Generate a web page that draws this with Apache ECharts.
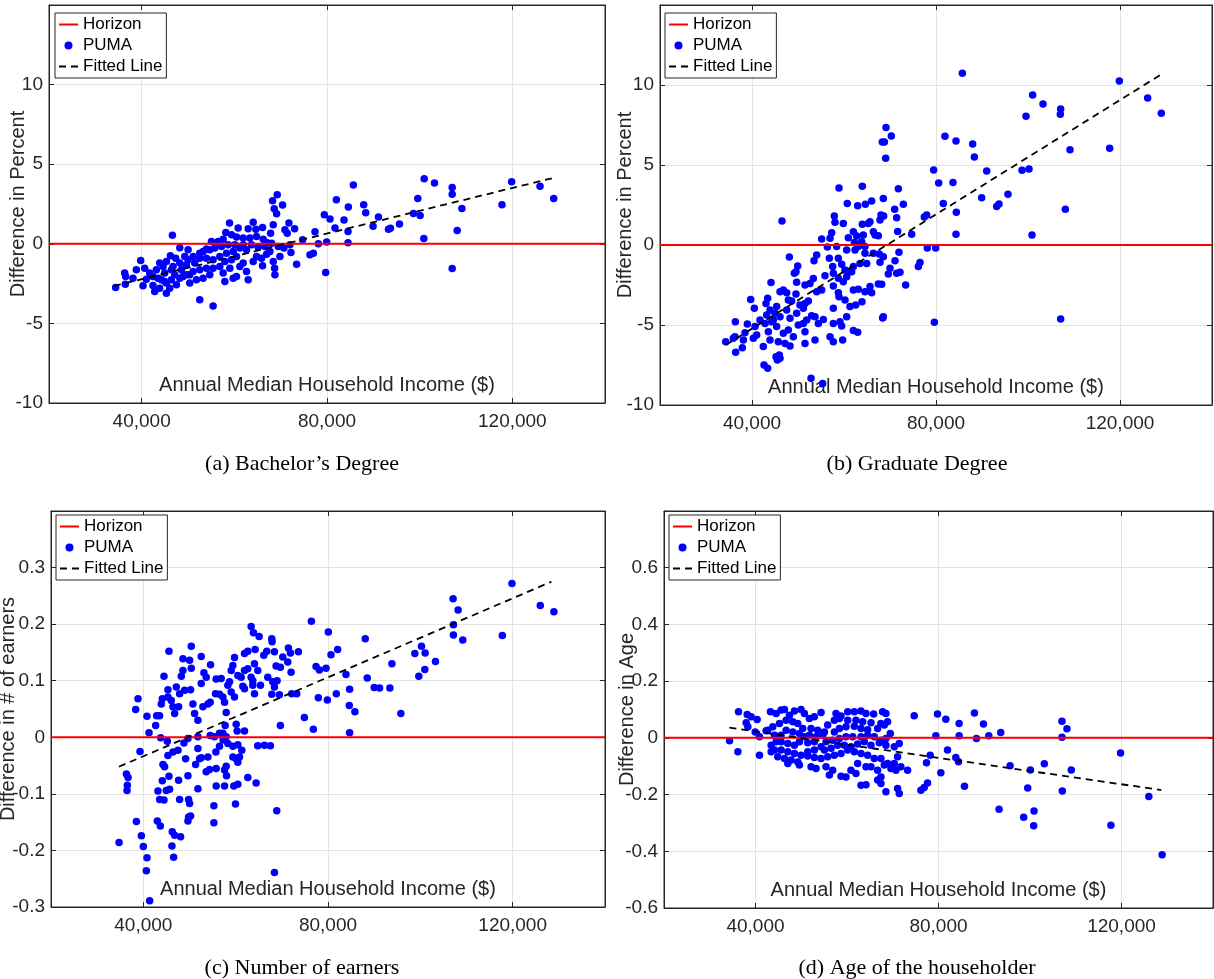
<!DOCTYPE html>
<html>
<head>
<meta charset="utf-8">
<title>PUMA differences vs income</title>
<script src="https://cdn.jsdelivr.net/npm/echarts@6/dist/echarts.min.js"></script>
<style>
  html, body { margin: 0; padding: 0; background: #fff; }
  #myChart { width: 1214px; height: 979px; }
</style>
</head>
<body>
<div id="myChart"></div>
<script>
// shared axis info
const incomeTicks = [40000, 80000, 120000]
const incomeRange = [20000, 140000]
const horizonLevel = 0
const captions = ['(a) Bachelor’s Degree', '(b) Graduate Degree', '(c) Number of earners', '(d) Age of the householder']
const yNames = ['Difference in Percent', 'Difference in Percent', 'Difference in # of earners', 'Difference in Age']
const yMins = [-10, -10, -0.3, -0.6]
const yMaxs = [15, 15, 0.4, 0.8]
const yIntervals = [5, 5, 0.1, 0.2]
const xName = 'Annual Median Household Income ($)'

// (a) bachelor's degree: [income, difference %]
const pumaA = [[69260,3.08],[68250,2.70],[70410,2.43],[68610,2.20],[69120,1.89],[82020,2.77],[79420,1.83],[80650,1.55],[81730,0.99],[77410,0.76],[71780,1.30],[73010,0.94],[70920,0.88],[71420,0.67],[64070,1.36],[58960,1.30],[60830,0.99],[62990,0.94],[64650,0.92],[66090,1.03],[68400,1.20],[67820,0.67],[46630,0.53],[48220,-0.25],[50020,-0.38],[49300,-0.80],[46200,-0.75],[47350,-0.90],[39790,-1.05],[36330,-1.84],[36540,-2.05],[34380,-2.74],[36470,-2.54],[38130,-2.16],[38850,-1.63],[40650,-1.53],[41010,-2.22],[40290,-2.64],[42450,-2.62],[42810,-3.00],[44250,-2.26],[44970,-1.84],[43890,-1.21],[45330,-1.11],[46780,-1.42],[48580,-1.63],[49660,-1.32],[51460,-1.21],[52540,-0.90],[53260,-0.48],[53980,-0.33],[55060,0.15],[56500,0.15],[57590,0.29],[58160,0.71],[59390,0.57],[60470,0.42],[61910,0.36],[63350,0.36],[64790,0.46],[66230,0.29],[66960,0.08],[68040,0.04],[69480,-0.17],[70700,-0.27],[72000,-0.06],[72220,-0.54],[69840,-0.80],[68400,-1.11],[68690,-1.53],[68760,-1.95],[73440,-1.28],[76320,-0.69],[77050,-0.59],[78130,0.00],[79930,0.11],[79710,-1.80],[74740,0.25],[52540,-3.52],[55420,-3.90],[45330,-3.10],[46050,-2.79],[47500,-2.58],[48940,-2.05],[50380,-1.95],[51820,-2.26],[53260,-2.16],[54700,-1.95],[55420,-1.53],[56870,-1.42],[57590,-1.84],[57950,-2.37],[59030,-1.53],[59750,-2.16],[60470,-2.05],[61190,-1.42],[61910,-1.21],[62630,-1.74],[62990,-2.26],[64070,-1.11],[64790,-0.80],[65870,-0.90],[66090,-1.38],[66960,-0.65],[67680,-0.48],[62630,-0.38],[61190,-0.27],[59750,-0.48],[58310,-0.59],[56870,-0.80],[55420,-1.00],[53980,-0.90],[59390,-1.00],[57950,-1.11],[60470,-0.80],[63710,-0.06],[65150,-0.21],[66600,-0.17],[61910,-0.06],[60110,-0.06],[58670,-0.06],[57230,-0.17],[55780,-0.27],[54700,-0.38],[52540,-0.59],[51100,-0.80],[50020,-1.00],[48220,-1.21],[46410,-1.63],[44610,-1.42],[43170,-1.63],[41730,-1.84],[42450,-2.05],[43530,-2.16],[44970,-2.37],[46410,-2.26],[48220,-2.16],[49660,-1.95],[51100,-1.74],[52540,-1.63],[53980,-1.53],[50380,-2.47],[47140,-1.95],[43890,-2.79],[45330,-2.47],
  [85690,3.69],[84610,2.31],[83670,1.49],[84540,0.78],[84540,0.06],[87920,2.45],[88360,1.95],[91100,1.68],[89940,1.11],[93260,0.92],[93690,0.97],[95640,1.24],[98660,1.91],[99600,2.85],[100100,1.78],[100970,4.09],[103200,3.82],[100900,0.34],[107020,3.54],[107020,3.12],[109110,2.22],[108100,0.84],[107020,-1.55],[117760,2.45],[119850,3.90],[125980,3.61],[128930,2.85]]
const fitA = [[34000,-2.65],[129000,4.15]]

// (b) graduate degree: [income, difference %]
const pumaB = [[69130,7.35],[68330,6.44],[68770,6.44],[70290,6.81],[69060,5.42],[81950,6.79],[84350,6.50],[79490,4.69],[80580,3.88],[83690,3.90],[81590,2.60],[84420,2.04],[84350,0.67],[58910,3.56],[63980,3.67],[71810,3.52],[68550,2.90],[66010,2.75],[64640,2.54],[62970,2.46],[60720,2.60],[72900,2.54],[71010,2.23],[71450,1.71],[68040,1.87],[68620,1.81],[67820,1.56],[57900,1.81],[58040,1.42],[59850,1.35],[65650,1.46],[65290,1.35],[63980,1.29],[46520,1.50],[71670,0.85],[74710,0.67],[66740,0.62],[67460,0.58],[66380,0.83],[62030,0.83],[62750,0.56],[64200,0.62],[63840,0.21],[55140,0.38],[56960,0.42],[57320,0.77],[60940,0.46],[62250,0.15],[63110,-0.10],[64560,-0.10],[56380,-0.12],[58400,-0.10],[60580,-0.31],[62390,-0.31],[64560,-0.52],[66380,-0.52],[67680,-0.56],[68550,-0.73],[71950,-0.46],[77970,1.87],[77460,1.75],[78110,-0.19],[79930,-0.19],[48120,-0.75],[54060,-0.62],[53480,-0.98],[56810,-0.83],[57540,-1.35],[58770,-0.83],[59490,-1.21],[60220,-1.56],[61300,-1.67],[62030,-1.35],[63480,-1.15],[64930,-1.15],[67820,-1.08],[70000,-1.46],[69640,-1.81],[71090,-0.98],[71450,-1.77],[72170,-1.71],[73400,-2.50],[76520,-1.10],[76160,-1.35],[49930,-1.31],[49560,-1.67],[49200,-1.77],[55870,-1.92],[57680,-1.77],[58770,-2.08],[59850,-2.29],[60580,-1.98],[61670,-1.67],[62030,-2.81],[63110,-2.77],[64560,-2.92],[66010,-2.98],[65650,-2.60],[67460,-2.44],[68190,-2.46],[44130,-2.35],[49710,-2.33],[51520,-2.50],[52610,-2.40],[53330,-2.10],[54060,-2.92],[55140,-2.81],[57680,-2.56],[58770,-2.98],[58910,-3.23],[60220,-3.44],[61300,-3.85],[62540,-3.75],[63910,-3.54],[39710,-3.40],[40510,-3.96],[43410,-3.33],[46090,-2.92],[46810,-2.81],[47540,-2.98],[47900,-3.44],[48620,-3.50],[49560,-3.06],[50430,-3.75],[51520,-3.65],[52250,-3.50],[52970,-4.42],[53700,-4.48],[54420,-4.90],[55510,-4.65],[57680,-3.96],[57680,-4.90],[59130,-4.79],[59490,-5.06],[60580,-4.48],[43040,-3.65],[43910,-4.06],[45360,-3.85],[45000,-4.27],[43190,-4.37],[44640,-4.69],[46090,-4.48],[47540,-4.06],[48260,-4.58],[49710,-4.27],[51160,-3.96],[51160,-4.90],[51880,-4.69],[36380,-4.79],[38990,-4.94],[40650,-5.10],[38480,-5.48],[36300,-5.73],[38120,-5.94],[40290,-5.83],[41010,-5.63],[41740,-4.69],[42830,-4.90],[44280,-4.79],[45360,-5.10],[46810,-5.52],[47900,-5.31],[48990,-5.73],[50070,-5.00],[51520,-5.42],[43550,-5.42],[43910,-5.94],[45720,-6.04],[47170,-6.15],[48260,-6.31],[42460,-6.35],[51520,-6.15],[53700,-5.94],[56960,-5.73],[57680,-6.04],[59710,-5.94],[62030,-5.35],[62970,-5.46],[68550,-4.48],[68400,-4.56],[79640,-4.83],[34280,-6.04],[35940,-5.83],[37900,-6.42],[36450,-6.71],[42610,-7.50],[43410,-7.71],[45220,-6.98],[45940,-6.88],[45510,-7.19],[46090,-7.08],[52830,-8.33],[55360,-8.65],
  [85730,10.73],[87970,6.31],[88340,5.50],[91020,4.63],[89930,2.96],[93190,2.40],[93700,2.56],[95650,3.17],[98700,4.67],[100220,4.75],[99570,8.04],[101010,9.37],[103260,8.81],[107100,8.50],[107030,8.17],[109130,5.96],[108120,2.23],[100870,0.63],[107100,-4.63],[117750,6.04],[119850,10.25],[126010,9.19],[128980,8.23]]
const fitB = [[34300,-6.25],[128900,10.65]]

// (c) number of earners: [income, difference]
const pumaC = [[63350,0.196],[63860,0.185],[65080,0.178],[67820,0.174],[67890,0.169],[76400,0.205],[80070,0.186],[82090,0.155],[80650,0.146],[77410,0.125],[78130,0.119],[79570,0.122],[77910,0.070],[79860,0.066],[81800,0.077],[74880,0.035],[76830,0.014],[69690,0.021],[45550,0.152],[50380,0.161],[48580,0.139],[50020,0.136],[52540,0.143],[54560,0.128],[50380,0.122],[48580,0.118],[48220,0.108],[44470,0.108],[53120,0.114],[53620,0.106],[52540,0.095],[55780,0.103],[56870,0.104],[58670,0.098],[58310,0.092],[59030,0.080],[59750,0.071],[60470,0.109],[59750,0.141],[59390,0.127],[59030,0.118],[61910,0.148],[62630,0.152],[64220,0.155],[66090,0.145],[66740,0.152],[68400,0.151],[70200,0.142],[71420,0.158],[71860,0.149],[73590,0.151],[71280,0.133],[72000,0.115],[69690,0.124],[68760,0.126],[64070,0.130],[62630,0.121],[61910,0.118],[64790,0.118],[63350,0.106],[61190,0.106],[63710,0.100],[61910,0.086],[61550,0.090],[64070,0.077],[63710,0.092],[65370,0.092],[66960,0.106],[68040,0.098],[68970,0.100],[68400,0.089],[67820,0.076],[69480,0.075],[72140,0.077],[73230,0.077],[38850,0.068],[38340,0.049],[40790,0.037],[42670,0.021],[42880,0.038],[43530,0.038],[44110,0.068],[43890,0.059],[45330,0.084],[45330,0.071],[46050,0.065],[46410,0.054],[46780,0.042],[47140,0.089],[47860,0.077],[48940,0.083],[50230,0.084],[47640,0.054],[50740,0.059],[51100,0.042],[51820,0.030],[52900,0.054],[53980,0.059],[54490,0.062],[55640,0.077],[56500,0.076],[57230,0.071],[57590,0.062],[57950,0.044],[60110,0.023],[60320,0.011],[61910,0.011],[57730,0.021],[57230,0.007],[56500,0.007],[55420,0.001],[54490,0.003],[51820,0.001],[49660,-0.002],[48790,-0.010],[47500,-0.023],[46410,-0.026],[45330,-0.032],[44250,-0.048],[44610,-0.052],[43750,-0.001],[41230,0.008],[39280,-0.025],[45190,-0.007],[49150,-0.038],[51820,-0.020],[52180,-0.038],[51320,-0.048],[52540,-0.036],[53980,-0.035],[55710,-0.026],[56500,-0.016],[57300,-0.005],[57950,0.001],[58310,-0.011],[59390,-0.016],[60470,-0.013],[61330,-0.023],[60830,-0.035],[60110,-0.038],[59390,-0.035],[60470,-0.044],[57950,-0.051],[57590,-0.058],[58020,-0.068],[55780,-0.055],[54340,-0.057],[53620,-0.061],[51820,-0.091],[49660,-0.068],[47640,-0.076],[45550,-0.069],[44110,-0.077],[44970,-0.094],[45690,-0.092],[43170,-0.095],[43530,-0.110],[44470,-0.111],[47860,-0.110],[49800,-0.110],[50020,-0.117],[55280,-0.121],[59960,-0.118],[55780,-0.086],[57590,-0.086],[59600,-0.086],[60470,-0.083],[62630,-0.071],[64430,-0.081],[64790,-0.015],[66230,-0.014],[67530,-0.015],[68900,-0.130],[36330,-0.065],[36690,-0.071],[36540,-0.085],[36470,-0.094],[38490,-0.149],[39570,-0.174],[40000,-0.193],[40790,-0.213],[40650,-0.236],[43030,-0.148],[43680,-0.157],[46270,-0.167],[46780,-0.173],[48070,-0.176],[46200,-0.192],[46560,-0.212],[49800,-0.141],[50230,-0.139],[49660,-0.148],[55280,-0.151],[68400,-0.239],[41370,-0.289],[34740,-0.186],
  [88070,0.174],[83890,0.111],[84680,0.085],[84610,0.056],[85830,0.045],[84680,0.008],[88500,0.105],[90010,0.088],[91170,0.087],[93400,0.087],[93840,0.130],[95780,0.042],[98810,0.148],[100250,0.161],[101040,0.149],[103280,0.134],[100970,0.120],[99670,0.108],[107100,0.245],[108180,0.225],[107170,0.199],[107170,0.181],[109190,0.172],[117760,0.180],[119850,0.272],[125980,0.233],[128930,0.222]]
const fitC = [[34700,-0.052],[128400,0.275]]

// (d) age of the householder: [income, difference]
const pumaD = [[36290,0.092],[38180,0.082],[39050,0.074],[40360,0.065],[37960,0.053],[38330,0.039],[39930,0.021],[40870,0.004],[42330,0.025],[34330,-0.010],[36150,-0.049],[40870,-0.061],[43270,0.092],[44510,0.086],[45600,0.098],[46330,0.100],[47420,0.080],[48510,0.095],[49960,0.100],[50690,0.086],[51780,0.068],[52870,0.074],[54330,0.089],[57600,0.086],[58690,0.077],[60150,0.092],[61600,0.092],[63060,0.095],[64150,0.086],[65820,0.084],[67780,0.092],[68510,0.086],[68870,0.057],[67420,0.051],[65240,0.053],[63420,0.057],[61960,0.062],[60150,0.062],[58330,0.068],[57240,0.062],[55780,0.045],[55060,0.021],[53600,0.027],[52150,0.033],[50330,0.033],[49240,0.051],[48150,0.057],[46690,0.062],[45240,0.051],[43780,0.039],[42690,0.027],[44150,0.009],[45600,0.009],[46690,0.027],[48150,0.021],[49600,0.015],[50690,0.004],[51780,0.009],[53240,0.004],[54690,0.009],[57240,0.021],[58330,0.033],[59780,0.039],[61600,0.041],[63060,0.033],[64510,0.029],[66690,0.033],[68150,0.045],[69460,0.015],[68510,-0.002],[67420,-0.008],[65960,0.004],[64510,0.009],[63060,0.004],[61240,0.004],[59780,0.004],[58330,-0.002],[56870,-0.008],[55420,-0.014],[54330,-0.031],[52870,-0.014],[51420,-0.017],[49600,-0.014],[48510,-0.026],[47060,-0.020],[45600,-0.014],[44510,-0.014],[43420,-0.026],[44150,-0.043],[45600,-0.043],[47060,-0.049],[48510,-0.055],[49960,-0.061],[51420,-0.049],[52870,-0.043],[55060,-0.043],[56510,-0.037],[57960,-0.026],[59420,-0.026],[60870,-0.031],[62330,-0.022],[63780,-0.014],[65240,-0.026],[67060,-0.017],[68510,-0.026],[70330,-0.031],[71420,-0.020],[71060,-0.067],[70330,-0.090],[68870,-0.090],[67420,-0.073],[65960,-0.073],[64510,-0.061],[63060,-0.055],[61600,-0.049],[60150,-0.043],[58690,-0.055],[57240,-0.061],[55780,-0.067],[54330,-0.073],[52870,-0.069],[51420,-0.064],[43420,-0.049],[44870,-0.067],[46330,-0.073],[47780,-0.078],[49240,-0.085],[47060,-0.090],[49600,-0.096],[52150,-0.102],[53240,-0.108],[55420,-0.102],[56150,-0.131],[56870,-0.114],[58690,-0.135],[59780,-0.138],[60870,-0.114],[61960,-0.126],[62330,-0.090],[64150,-0.102],[65240,-0.102],[66690,-0.114],[67420,-0.138],[68150,-0.096],[69600,-0.108],[70690,-0.114],[71780,-0.102],[73240,-0.114],[66690,-0.149],[67420,-0.161],[63060,-0.167],[64150,-0.165],[68510,-0.190],[71060,-0.179],[71420,-0.196],[74690,0.078],[76150,-0.185],[76870,-0.175],[77600,-0.159],[79780,0.084],[81600,0.066],[84510,0.051],[79420,0.007],[81970,-0.043],[83780,-0.069],[78180,-0.061],[77380,-0.088],[80510,-0.123],
  [84510,0.007],[84370,-0.084],[87860,0.088],[89820,0.049],[88300,-0.002],[90990,0.007],[93600,0.019],[85680,-0.171],[93240,-0.252],[95640,-0.098],[100080,-0.113],[99500,-0.177],[98620,-0.280],[100880,-0.258],[100800,-0.310],[103130,-0.091],[106990,0.059],[108080,0.032],[106990,0.002],[109020,-0.113],[107060,-0.187],[117680,-0.308],[119790,-0.053],[125970,-0.207],[128880,-0.412]]
const fitD = [[34300,0.036],[128700,-0.184]]

const pumaSets = [pumaA, pumaB, pumaC, pumaD]
const fitSets = [fitA, fitB, fitC, fitD]

// layout of the four panels
const gridBoxes = [
  { left: 49, top: 5, width: 556, height: 398 },
  { left: 660, top: 5, width: 552, height: 400 },
  { left: 51, top: 511, width: 554, height: 396 },
  { left: 664, top: 511, width: 549, height: 397 }
]
const legendPos = [[55, 13], [665, 13], [56, 515], [669, 515]]
const captionPos = [[297, 448], [912, 448], [297, 952], [912, 952]]
const yNameGaps = [21, 25, 33, 27]

const axisColor = '#262626'
const gridColor = '#e3e3e3'
const sans = 'Liberation Sans, Arial, sans-serif'

function sameValue(a, b) {
  return Math.abs(a - b) < 1e-9
}

const myChart = echarts.init(document.getElementById('myChart'))
const option = {
  animation: false,
  backgroundColor: '#fff',
  title: [],
  legend: [],
  grid: [],
  xAxis: [],
  yAxis: [],
  series: []
}

// line items in the legend: plain line, no marker
const hideMarker = { opacity: 0 }

for (let i = 0; i < 4; i++) {
  option.grid.push(Object.assign({
    show: true,
    borderColor: axisColor,
    borderWidth: 1,
    containLabel: false,
    outerBoundsMode: 'none'
  }, gridBoxes[i]))

  option.title.push({
    text: captions[i],
    left: captionPos[i][0],
    top: captionPos[i][1],
    textAlign: 'center',
    textStyle: { fontFamily: 'Liberation Serif, Times New Roman, serif', fontSize: 22, fontWeight: 'normal', color: '#000' }
  })

  option.xAxis.push({
    type: 'value',
    gridIndex: i,
    min: incomeRange[0],
    max: incomeRange[1],
    name: xName,
    nameLocation: 'middle',
    nameGap: -28,
    nameMoveOverlap: false,
    nameTextStyle: { fontFamily: sans, fontSize: 20, color: axisColor },
    axisLine: { show: true, onZero: false, lineStyle: { color: axisColor, width: 1 } },
    axisTick: { show: true, inside: true, length: 5, customValues: incomeTicks, lineStyle: { color: axisColor } },
    axisLabel: {
      customValues: incomeTicks,
      margin: 9,
      fontFamily: sans,
      fontSize: 19,
      color: axisColor,
      formatter: function(v) { return v.toLocaleString('en-US') }
    },
    splitLine: { show: true, lineStyle: { color: gridColor, width: 1 } }
  })

  const yMax = yMaxs[i]
  option.yAxis.push({
    type: 'value',
    gridIndex: i,
    min: yMins[i],
    max: yMax,
    interval: yIntervals[i],
    name: yNames[i],
    nameLocation: 'middle',
    nameGap: yNameGaps[i],
    nameMoveOverlap: false,
    nameTextStyle: { fontFamily: sans, fontSize: 20, color: axisColor },
    axisLine: { show: true, onZero: false, lineStyle: { color: axisColor, width: 1 } },
    axisTick: { show: true, inside: true, length: 5, lineStyle: { color: axisColor } },
    axisLabel: {
      margin: 6,
      fontFamily: sans,
      fontSize: 19,
      color: axisColor,
      formatter: function(v) { return sameValue(v, yMax) ? '' : String(v) }
    },
    splitLine: { show: true, lineStyle: { color: gridColor, width: 1 } }
  })

  option.legend.push({
    left: legendPos[i][0],
    top: legendPos[i][1],
    orient: 'vertical',
    data: [
      { name: 'Horizon', itemStyle: hideMarker },
      { name: 'PUMA' },
      { name: 'Fitted Line', itemStyle: hideMarker }
    ],
    backgroundColor: '#fff',
    borderColor: axisColor,
    borderWidth: 1,
    padding: [3, 4, 3, 3],
    itemGap: 4,
    itemWidth: 19,
    itemHeight: 8,
    selectedMode: false,
    textStyle: { fontFamily: sans, fontSize: 17, color: '#000' }
  })

  option.series.push({
    name: 'Horizon',
    type: 'line',
    xAxisIndex: i,
    yAxisIndex: i,
    data: [[incomeRange[0], horizonLevel], [incomeRange[1], horizonLevel]],
    symbol: 'none',
    silent: true,
    lineStyle: { color: '#ff0000', width: 2 },
    itemStyle: { color: '#ff0000' }
  })

  option.series.push({
    name: 'PUMA',
    type: 'scatter',
    xAxisIndex: i,
    yAxisIndex: i,
    data: pumaSets[i],
    symbol: 'circle',
    symbolSize: 7.5,
    itemStyle: { color: '#0000ff', opacity: 1 }
  })

  option.series.push({
    name: 'Fitted Line',
    type: 'line',
    xAxisIndex: i,
    yAxisIndex: i,
    data: fitSets[i],
    symbol: 'none',
    silent: true,
    lineStyle: { color: '#000', width: 1.8, type: [7, 5] },
    itemStyle: { color: '#000' }
  })
}

// box ticks on the top and right edges, like the original frame
for (let i = 0; i < 4; i++) {
  option.xAxis.push({
    type: 'value',
    gridIndex: i,
    position: 'top',
    min: incomeRange[0],
    max: incomeRange[1],
    axisLine: { show: true, onZero: false, lineStyle: { color: axisColor, width: 1 } },
    axisTick: { show: true, inside: true, length: 5, customValues: incomeTicks, lineStyle: { color: axisColor } },
    axisLabel: { show: false },
    splitLine: { show: false }
  })
  option.yAxis.push({
    type: 'value',
    gridIndex: i,
    position: 'right',
    min: yMins[i],
    max: yMaxs[i],
    interval: yIntervals[i],
    axisLine: { show: true, onZero: false, lineStyle: { color: axisColor, width: 1 } },
    axisTick: { show: true, inside: true, length: 5, lineStyle: { color: axisColor } },
    axisLabel: { show: false },
    splitLine: { show: false }
  })
}

myChart.setOption(option)
</script>
</body>
</html>
